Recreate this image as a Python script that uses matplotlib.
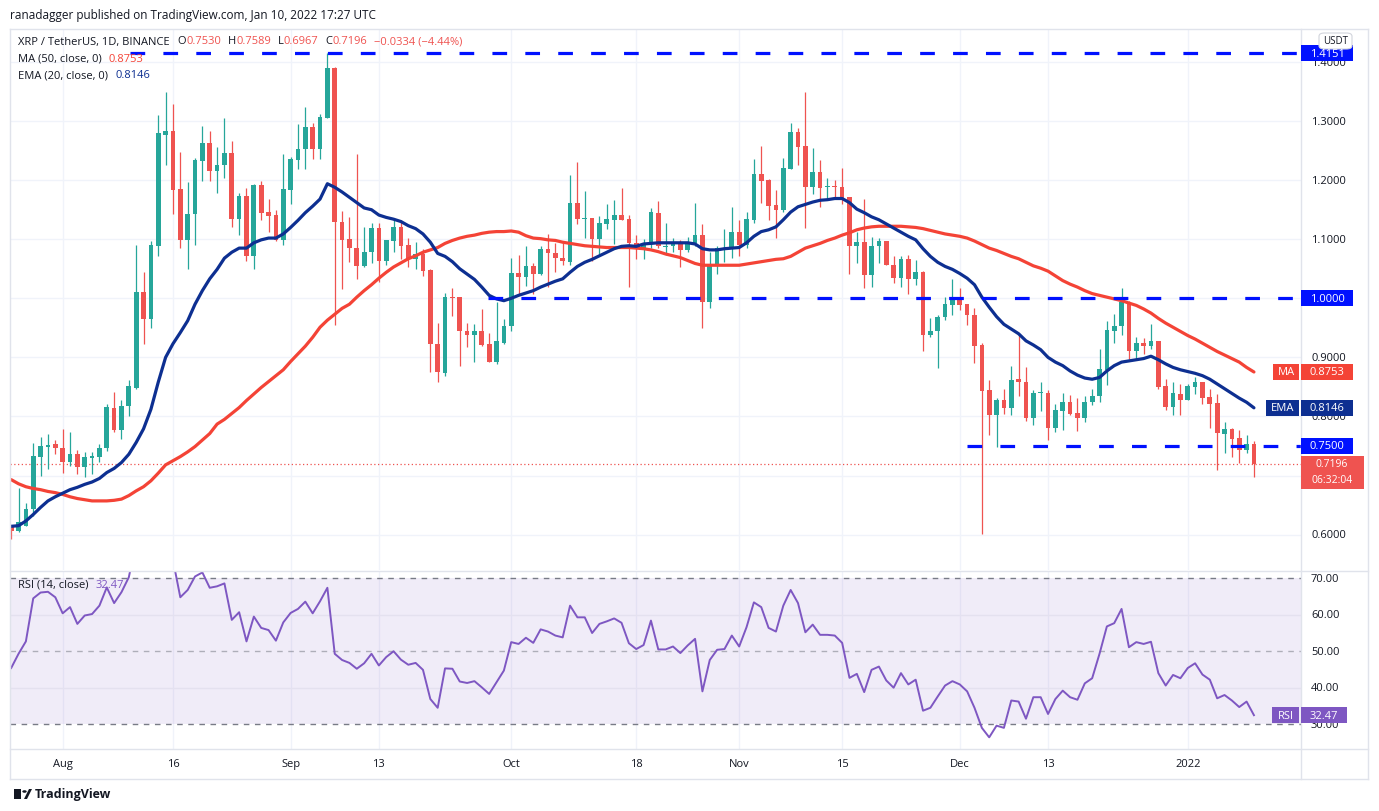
import matplotlib
matplotlib.use("Agg")
import matplotlib.pyplot as plt
import matplotlib.dates as mdates
from matplotlib.patches import Rectangle, FancyBboxPatch, Polygon, Circle
import pandas as pd

W, H = 1379, 812
FONT = ["Open Sans", "DejaVu Sans"]
DARK = "#131722"
UP = "#26a69a"
DOWN = "#ef5350"
MA_COLOR = "#f44336"
EMA_COLOR = "#0d2f91"
RSI_COLOR = "#7e57c2"
LEVEL_COLOR = "#0011ff"
GRID = "#f0f3fa"
BORDER = "#e0e3eb"

# daily candles, XRP / USDT
dates = pd.date_range("2021-07-25", "2022-01-10", freq="D")

opens = [
    0.612, 0.606, 0.615, 0.643, 0.732, 0.749, 0.753, 0.746, 0.723, 0.737,
    0.714, 0.730, 0.732, 0.747, 0.815, 0.777, 0.817, 0.849, 1.010, 0.965,
    1.089, 1.277, 1.284, 1.185, 1.098, 1.142, 1.233, 1.263, 1.215, 1.225,
    1.246, 1.134, 1.173, 1.071, 1.192, 1.146, 1.141, 1.099, 1.184, 1.235,
    1.252, 1.290, 1.253, 1.306, 1.390, 1.129, 1.101, 1.086, 1.054, 1.078,
    1.119, 1.064, 1.097, 1.120, 1.090, 1.066, 1.075, 1.048, 0.923, 0.873,
    1.003, 1.002, 0.944, 0.938, 0.944, 0.923, 0.893, 0.924, 0.953, 1.043,
    1.036, 1.054, 1.042, 1.084, 1.076, 1.068, 1.062, 1.162, 1.134, 1.136,
    1.101, 1.126, 1.133, 1.141, 1.134, 1.094, 1.084, 1.092, 1.145, 1.087,
    1.088, 1.094, 1.081, 1.094, 1.107, 0.994, 1.058, 1.083, 1.084, 1.113,
    1.091, 1.133, 1.211, 1.201, 1.158, 1.150, 1.219, 1.281, 1.258, 1.189,
    1.214, 1.188, 1.190, 1.189, 1.171, 1.088, 1.095, 1.040, 1.088, 1.097,
    1.057, 1.034, 1.067, 1.032, 1.044, 0.938, 0.944, 0.968, 0.989, 0.999,
    0.990, 0.972, 0.921, 0.845, 0.803, 0.827, 0.815, 0.863, 0.859, 0.797,
    0.839, 0.840, 0.781, 0.809, 0.825, 0.806, 0.797, 0.825, 0.834, 0.879,
    0.945, 0.953, 0.993, 0.911, 0.925, 0.920, 0.927, 0.851, 0.816, 0.838,
    0.828, 0.850, 0.859, 0.833, 0.823, 0.770, 0.779, 0.763, 0.744, 0.7530,
]
highs = [
    0.614, 0.678, 0.653, 0.755, 0.766, 0.770, 0.760, 0.779, 0.773, 0.744,
    0.740, 0.740, 0.753, 0.821, 0.841, 0.828, 0.862, 1.090, 1.045, 1.097,
    1.311, 1.350, 1.329, 1.247, 1.197, 1.237, 1.291, 1.283, 1.257, 1.306,
    1.267, 1.179, 1.187, 1.194, 1.199, 1.168, 1.150, 1.245, 1.239, 1.295,
    1.324, 1.297, 1.312, 1.4151, 1.392, 1.147, 1.137, 1.245, 1.120, 1.128,
    1.128, 1.099, 1.132, 1.132, 1.102, 1.096, 1.084, 1.050, 0.959, 1.009,
    1.017, 1.002, 0.958, 0.956, 0.982, 0.942, 0.993, 0.965, 1.069, 1.073,
    1.089, 1.060, 1.089, 1.109, 1.094, 1.094, 1.209, 1.231, 1.181, 1.136,
    1.140, 1.160, 1.167, 1.187, 1.141, 1.107, 1.100, 1.153, 1.164, 1.128,
    1.102, 1.098, 1.103, 1.162, 1.126, 1.078, 1.089, 1.118, 1.154, 1.133,
    1.146, 1.236, 1.258, 1.202, 1.184, 1.238, 1.297, 1.288, 1.349, 1.255,
    1.234, 1.203, 1.201, 1.221, 1.172, 1.113, 1.169, 1.103, 1.102, 1.097,
    1.071, 1.071, 1.073, 1.065, 1.047, 0.966, 0.971, 1.003, 1.032, 1.018,
    0.990, 0.983, 0.924, 0.862, 0.831, 0.846, 0.886, 0.938, 0.884, 0.845,
    0.859, 0.845, 0.821, 0.840, 0.836, 0.832, 0.834, 0.847, 0.915, 0.961,
    0.973, 1.017, 0.996, 0.935, 0.933, 0.956, 0.927, 0.864, 0.859, 0.855,
    0.855, 0.866, 0.859, 0.846, 0.838, 0.791, 0.780, 0.777, 0.768, 0.7589,
]
lows = [
    0.592, 0.604, 0.614, 0.632, 0.699, 0.711, 0.737, 0.705, 0.716, 0.702,
    0.697, 0.702, 0.723, 0.742, 0.773, 0.762, 0.801, 0.847, 0.923, 0.949,
    1.071, 1.226, 1.143, 1.085, 1.050, 1.091, 1.199, 1.199, 1.179, 1.203,
    1.121, 1.108, 1.064, 1.050, 1.132, 1.113, 1.097, 1.091, 1.159, 1.219,
    1.219, 1.236, 1.236, 1.306, 0.954, 1.015, 1.062, 1.032, 1.053, 1.059,
    1.027, 1.057, 1.078, 1.067, 1.053, 1.050, 1.038, 0.875, 0.859, 0.869,
    0.970, 0.886, 0.917, 0.893, 0.920, 0.892, 0.889, 0.923, 0.945, 1.005,
    1.021, 1.007, 1.040, 1.019, 1.044, 1.056, 1.057, 1.126, 1.102, 1.064,
    1.075, 1.118, 1.092, 1.132, 1.019, 1.066, 1.067, 1.086, 1.085, 1.074,
    1.078, 1.053, 1.078, 1.089, 0.949, 0.983, 1.041, 1.062, 1.068, 1.071,
    1.085, 1.128, 1.162, 1.132, 1.102, 1.146, 1.219, 1.225, 1.119, 1.177,
    1.155, 1.167, 1.168, 1.160, 1.041, 1.060, 1.017, 1.019, 1.060, 1.056,
    1.026, 1.019, 1.007, 1.023, 0.910, 0.935, 0.882, 0.963, 0.971, 0.981,
    0.955, 0.890, 0.601, 0.769, 0.749, 0.804, 0.803, 0.834, 0.793, 0.786,
    0.810, 0.760, 0.773, 0.777, 0.802, 0.776, 0.791, 0.819, 0.825, 0.854,
    0.924, 0.938, 0.897, 0.898, 0.906, 0.914, 0.846, 0.811, 0.803, 0.803,
    0.827, 0.838, 0.821, 0.780, 0.709, 0.738, 0.731, 0.722, 0.738, 0.6967,
]
closes = [
    0.606, 0.622, 0.644, 0.733, 0.750, 0.751, 0.746, 0.723, 0.737, 0.714,
    0.731, 0.733, 0.747, 0.816, 0.777, 0.817, 0.851, 1.010, 0.965, 1.090,
    1.280, 1.284, 1.184, 1.098, 1.143, 1.235, 1.263, 1.215, 1.226, 1.246,
    1.134, 1.173, 1.071, 1.192, 1.145, 1.140, 1.099, 1.185, 1.236, 1.253,
    1.290, 1.253, 1.307, 1.390, 1.129, 1.099, 1.085, 1.054, 1.078, 1.119,
    1.064, 1.098, 1.120, 1.089, 1.067, 1.075, 1.047, 0.923, 0.875, 1.003,
    1.001, 0.944, 0.938, 0.944, 0.921, 0.893, 0.927, 0.953, 1.043, 1.036,
    1.054, 1.042, 1.084, 1.076, 1.068, 1.063, 1.162, 1.134, 1.136, 1.101,
    1.128, 1.134, 1.141, 1.133, 1.094, 1.086, 1.092, 1.146, 1.088, 1.089,
    1.094, 1.081, 1.095, 1.107, 0.994, 1.058, 1.085, 1.085, 1.113, 1.091,
    1.134, 1.211, 1.199, 1.157, 1.150, 1.221, 1.281, 1.257, 1.189, 1.214,
    1.187, 1.190, 1.188, 1.169, 1.088, 1.095, 1.040, 1.088, 1.097, 1.056,
    1.034, 1.067, 1.032, 1.044, 0.938, 0.944, 0.969, 0.990, 0.999, 0.989,
    0.971, 0.920, 0.843, 0.803, 0.827, 0.815, 0.862, 0.858, 0.797, 0.840,
    0.840, 0.781, 0.811, 0.825, 0.804, 0.797, 0.825, 0.834, 0.880, 0.946,
    0.953, 0.993, 0.911, 0.925, 0.920, 0.927, 0.850, 0.816, 0.839, 0.828,
    0.851, 0.859, 0.831, 0.821, 0.772, 0.779, 0.762, 0.744, 0.753, 0.7196,
]

# indicator values as shown on the chart
ma50 = [
    0.693, 0.686, 0.681, 0.678, 0.676, 0.673, 0.671, 0.668, 0.664, 0.661,
    0.659, 0.657, 0.657, 0.657, 0.658, 0.660, 0.666, 0.674, 0.681, 0.691,
    0.704, 0.718, 0.725, 0.732, 0.740, 0.749, 0.760, 0.771, 0.787, 0.795,
    0.805, 0.815, 0.827, 0.838, 0.849, 0.859, 0.869, 0.879, 0.893, 0.906,
    0.919, 0.934, 0.951, 0.963, 0.973, 0.983, 0.990, 1.002, 1.013, 1.023,
    1.034, 1.044, 1.053, 1.060, 1.067, 1.072, 1.078, 1.082, 1.086, 1.093,
    1.098, 1.102, 1.105, 1.107, 1.110, 1.112, 1.113, 1.113, 1.114, 1.112,
    1.106, 1.102, 1.101, 1.099, 1.098, 1.095, 1.093, 1.091, 1.089, 1.088,
    1.087, 1.086, 1.086, 1.086, 1.086, 1.085, 1.084, 1.082, 1.079, 1.075,
    1.072, 1.069, 1.064, 1.059, 1.056, 1.056, 1.056, 1.056, 1.056, 1.056,
    1.058, 1.060, 1.062, 1.064, 1.066, 1.067, 1.071, 1.078, 1.085, 1.089,
    1.093, 1.098, 1.102, 1.107, 1.111, 1.116, 1.119, 1.121, 1.122, 1.122,
    1.122, 1.122, 1.121, 1.120, 1.118, 1.115, 1.112, 1.109, 1.107, 1.105,
    1.102, 1.097, 1.091, 1.085, 1.081, 1.076, 1.071, 1.067, 1.061, 1.055,
    1.051, 1.046, 1.038, 1.030, 1.024, 1.019, 1.013, 1.008, 1.005, 1.002,
    0.999, 0.996, 0.992, 0.988, 0.982, 0.975, 0.966, 0.958, 0.951, 0.944,
    0.937, 0.931, 0.924, 0.917, 0.910, 0.904, 0.898, 0.892, 0.883, 0.8753,
]
ema20 = [
    0.614, 0.615, 0.623, 0.634, 0.646, 0.657, 0.664, 0.670, 0.676, 0.680,
    0.685, 0.689, 0.695, 0.705, 0.712, 0.722, 0.736, 0.756, 0.779, 0.812,
    0.858, 0.900, 0.923, 0.942, 0.962, 0.990, 1.013, 1.033, 1.049, 1.068,
    1.078, 1.085, 1.085, 1.094, 1.099, 1.102, 1.102, 1.109, 1.120, 1.132,
    1.145, 1.156, 1.168, 1.194, 1.188, 1.180, 1.171, 1.162, 1.153, 1.150,
    1.141, 1.137, 1.134, 1.130, 1.123, 1.118, 1.109, 1.095, 1.076, 1.071,
    1.062, 1.050, 1.041, 1.032, 1.019, 1.005, 0.999, 0.996, 1.000, 1.005,
    1.009, 1.013, 1.019, 1.024, 1.029, 1.033, 1.044, 1.054, 1.061, 1.066,
    1.072, 1.078, 1.084, 1.088, 1.089, 1.088, 1.092, 1.093, 1.094, 1.094,
    1.094, 1.094, 1.094, 1.092, 1.084, 1.082, 1.082, 1.084, 1.085, 1.086,
    1.094, 1.105, 1.113, 1.116, 1.121, 1.133, 1.146, 1.155, 1.159, 1.163,
    1.166, 1.167, 1.169, 1.169, 1.162, 1.151, 1.145, 1.138, 1.133, 1.126,
    1.119, 1.112, 1.105, 1.099, 1.084, 1.071, 1.061, 1.054, 1.049, 1.042,
    1.034, 1.023, 1.002, 0.985, 0.969, 0.956, 0.948, 0.940, 0.928, 0.921,
    0.913, 0.900, 0.892, 0.886, 0.877, 0.870, 0.865, 0.863, 0.866, 0.877,
    0.886, 0.892, 0.894, 0.896, 0.898, 0.902, 0.896, 0.889, 0.883, 0.879,
    0.876, 0.873, 0.869, 0.863, 0.855, 0.847, 0.839, 0.831, 0.824, 0.8146,
]
rsi14 = [
    45.4, 49.3, 52.7, 64.5, 66.1, 66.3, 64.8, 60.4, 62.1, 57.5,
    59.8, 60.2, 62.5, 67.5, 63.2, 66.2, 70.3, 80.0, 72.5, 78.0,
    86.0, 86.0, 75.0, 64.8, 66.8, 70.5, 71.6, 67.4, 67.8, 68.6,
    58.6, 60.7, 52.7, 59.5, 56.4, 55.8, 52.9, 57.9, 60.5, 61.6,
    63.6, 60.4, 63.7, 67.4, 49.3, 47.6, 46.8, 45.2, 46.7, 49.3,
    46.1, 48.4, 50.0, 47.7, 46.3, 46.8, 44.9, 36.9, 34.5, 45.3,
    45.2, 41.7, 41.3, 41.8, 40.1, 38.3, 41.5, 44.7, 52.5, 52.0,
    53.7, 52.3, 56.0, 55.4, 54.3, 53.8, 62.5, 59.3, 59.3, 55.0,
    57.5, 58.2, 59.0, 57.8, 52.2, 50.6, 51.7, 58.4, 50.5, 50.5,
    51.3, 49.5, 51.6, 53.4, 39.0, 47.6, 50.4, 50.6, 54.3, 51.3,
    56.6, 63.4, 62.1, 56.4, 55.4, 62.5, 66.8, 63.2, 55.2, 57.3,
    54.5, 54.5, 54.3, 52.3, 42.7, 43.8, 38.8, 44.9, 45.8, 42.0,
    40.0, 44.0, 40.9, 42.2, 33.7, 34.5, 37.6, 40.6, 41.8, 40.9,
    39.0, 34.5, 29.0, 26.4, 29.6, 29.0, 36.5, 36.2, 31.5, 37.4,
    37.4, 32.8, 36.9, 39.2, 37.4, 36.7, 41.2, 42.6, 49.3, 56.8,
    57.7, 61.6, 51.1, 52.5, 52.0, 52.6, 44.0, 40.6, 43.5, 42.6,
    45.4, 46.7, 43.6, 42.2, 37.1, 38.0, 36.5, 34.7, 36.2, 32.47,
]

# horizontal drawings: level and where the line starts
level_prices = [1.4151, 1.0000, 0.7500]
level_starts = ["2021-08-10 05:00", "2021-09-27 19:00", "2021-12-01 22:00"]

tick_dates = ["2021-08-01", "2021-08-16", "2021-09-01", "2021-09-13", "2021-10-01",
              "2021-10-18", "2021-11-01", "2021-11-15", "2021-12-01", "2021-12-13",
              "2022-01-01"]
tick_labels = ["Aug", "16", "Sep", "13", "Oct", "18", "Nov", "15", "Dec", "13", "2022"]
price_ticks = [0.6, 0.7, 0.8, 0.9, 1.0, 1.1, 1.2, 1.3, 1.4]
rsi_ticks = [30, 40, 50, 60, 70]

# pane geometry in pixels
LEFT, RIGHT = 10, 1301
P_TOP, P_BOT = 30, 571
R_TOP, R_BOT = 572, 750
P_YMIN, P_YMAX = 0.540, 1.456
R_YMIN, R_YMAX = 23.2, 72.0

fig = plt.figure(figsize=(W / 100, H / 100), dpi=100)
fig.patch.set_facecolor("white")

ax = fig.add_axes([LEFT / W, 1 - P_BOT / H, (RIGHT - LEFT) / W, (P_BOT - P_TOP) / H])
ax2 = fig.add_axes([LEFT / W, 1 - R_BOT / H, (RIGHT - LEFT) / W, (R_BOT - R_TOP) / H], sharex=ax)

xs = mdates.date2num(dates)
x0 = xs[0]
for a in (ax, ax2):
    a.set_xlim(x0 - 0.16, x0 + 175.4)
    for s in a.spines.values():
        s.set_visible(False)
    a.tick_params(left=False, bottom=False, labelleft=False, labelbottom=False)
    for td in tick_dates:
        a.axvline(mdates.date2num(pd.Timestamp(td)), color=GRID, lw=1, zorder=0)
ax.set_ylim(P_YMIN, P_YMAX)
ax2.set_ylim(R_YMIN, R_YMAX)

for p in price_ticks:
    ax.axhline(p, color=GRID, lw=1, zorder=0)

# level lines
for lv, st in zip(level_prices, level_starts):
    ax.hlines(lv, mdates.date2num(pd.Timestamp(st)), x0 + 176, color=LEVEL_COLOR,
              lw=2.3, linestyles=(0, (4.6, 5.7)), zorder=6)

# current price dotted line
ax.axhline(closes[-1], color=DOWN, lw=0.9, ls=(0, (1, 2)), zorder=1)

# candles
for x, o, h, l, c in zip(xs, opens, highs, lows, closes):
    col = UP if c >= o else DOWN
    ax.vlines(x, l, h, color=col, lw=0.9, zorder=2)
    lo, hi = min(o, c), max(o, c)
    ax.bar(x, max(hi - lo, 0.0018), bottom=lo, width=0.64, color=col, lw=0, zorder=3)

ax.plot(xs, ma50, color=MA_COLOR, lw=2.3, zorder=4, solid_capstyle="round")
ax.plot(xs, ema20, color=EMA_COLOR, lw=2.3, zorder=5, solid_capstyle="round")

# RSI pane
ax2.axhspan(30, 70, color=RSI_COLOR, alpha=0.11, lw=0, zorder=0)
for g in (40, 60):
    ax2.axhline(g, color="#e4e1ef", lw=1, zorder=1)
ax2.axhline(70, color="#787b86", lw=1, ls=(0, (4, 4)), zorder=1)
ax2.axhline(30, color="#787b86", lw=1, ls=(0, (4, 4)), zorder=1)
ax2.axhline(50, color="#787b86", lw=1, ls=(0, (4, 4)), alpha=0.55, zorder=1)
ax2.plot(xs, rsi14, color=RSI_COLOR, lw=1.4, zorder=3)

# frame lines
def fline(xa, ya, xb, yb, color=BORDER, lw=1):
    fig.add_artist(plt.Line2D([xa / W, xb / W], [1 - ya / H, 1 - yb / H],
                              transform=fig.transFigure, color=color, lw=lw))

fline(LEFT, P_TOP, 1368, P_TOP)
fline(LEFT, 571.5, 1368, 571.5)
fline(LEFT, R_BOT, 1368, R_BOT)
fline(LEFT, 780, 1368, 780)
fline(LEFT, P_TOP, LEFT, 780)
fline(RIGHT, P_TOP, RIGHT, 780)
fline(1368, P_TOP, 1368, 780)

def py_price(v):
    return P_TOP + (P_YMAX - v) / (P_YMAX - P_YMIN) * (P_BOT - P_TOP)

def py_rsi(v):
    return R_TOP + (R_YMAX - v) / (R_YMAX - R_YMIN) * (R_BOT - R_TOP)

def ftext(x, y, s, **kw):
    kw.setdefault("family", FONT)
    kw.setdefault("fontsize", 8)
    kw.setdefault("color", DARK)
    kw.setdefault("va", "center")
    return fig.text(x / W, 1 - y / H, s, **kw)

ycur = py_price(closes[-1])

# axis labels (the one hidden under the last-price box is left out)
for p in price_ticks:
    yp = py_price(p)
    if ycur - 10 < yp < ycur + 28:
        continue
    ftext(1311, yp, f"{p:.4f}")
for r in rsi_ticks:
    ftext(1311, py_rsi(r), f"{r:.2f}")
for td, lab in zip(tick_dates, tick_labels):
    xpx = LEFT + (mdates.date2num(pd.Timestamp(td)) - (x0 - 0.16)) / 175.56 * (RIGHT - LEFT)
    ftext(xpx, 765, lab, ha="center")

def tag(xa, xb, yc, h, s, color, size=8, weight="normal"):
    fig.add_artist(Rectangle((xa / W, 1 - (yc + h / 2) / H), (xb - xa) / W, h / H,
                             transform=fig.transFigure, color=color, lw=0, zorder=10))
    t = ftext((xa + xb) / 2, yc, s, ha="center", color="white", fontsize=size,
              weight=weight)
    t.set_zorder(11)

for lv in level_prices:
    tag(1301, 1353, py_price(lv), 16, f"{lv:.4f}", LEVEL_COLOR)
tag(1273, 1299, py_price(ma50[-1]), 16, "MA", MA_COLOR)
tag(1301, 1353, py_price(ma50[-1]), 16, f"{ma50[-1]:.4f}", MA_COLOR)
tag(1266, 1299, py_price(ema20[-1]), 16, "EMA", EMA_COLOR)
tag(1301, 1353, py_price(ema20[-1]), 16, f"{ema20[-1]:.4f}", EMA_COLOR)
fig.add_artist(Rectangle((1301 / W, 1 - (ycur + 25) / H), 63 / W, 33 / H,
                         transform=fig.transFigure, color=DOWN, lw=0, zorder=10))
ftext(1332, ycur, f"{closes[-1]:.4f}", ha="center", color="white", fontsize=7.5,
      zorder=11)
ftext(1332, ycur + 16, "06:32:04", ha="center", color="white", fontsize=7.5, zorder=11)
tag(1272, 1299, py_rsi(rsi14[-1]), 16, "RSI", RSI_COLOR)
tag(1301, 1347, py_rsi(rsi14[-1]), 16, f"{rsi14[-1]:.2f}", RSI_COLOR)

# USDT box
fig.add_artist(FancyBboxPatch((1319 / W, 1 - 50 / H), 33 / W, 16 / H,
                              boxstyle="round,pad=0,rounding_size=0.004",
                              transform=fig.transFigure, fc="white", ec="#d1d4dc",
                              lw=0.8, zorder=10))
ftext(1335.5, 42, "USDT", ha="center", fontsize=7, zorder=11)

# header and legends
renderer = fig.canvas.get_renderer()

def row(x, y, parts, size=8):
    for s, c, gap in parts:
        t = ftext(x, y, s, color=c, fontsize=size, zorder=12)
        x += t.get_window_extent(renderer).width + gap

ftext(10, 15, "ranadagger published on TradingView.com, Jan 10, 2022 17:27 UTC", fontsize=8.5)
row(18, 42, [("XRP / TetherUS, 1D, BINANCE", DARK, 8),
             ("O", DARK, 0), ("0.7530", DOWN, 7),
             ("H", DARK, 0), ("0.7589", DOWN, 7),
             ("L", DARK, 0), ("0.6967", DOWN, 7),
             ("C", DARK, 0), ("0.7196", DOWN, 7),
             ("\u22120.0334 (\u22124.44%)", DOWN, 0)])
row(18, 59, [("MA (50, close, 0)", DARK, 7), ("0.8753", MA_COLOR, 0)])
row(18, 76, [("EMA (20, close, 0)", DARK, 7), ("0.8146", EMA_COLOR, 0)])
row(18, 585, [("RSI (14, close)", DARK, 7), ("32.47", RSI_COLOR, 0)])

# TradingView mark
fig.add_artist(Rectangle((14 / W, 1 - 800 / H), 7 / W, 10 / H, transform=fig.transFigure,
                         color=DARK, lw=0))
fig.add_artist(Circle((24.5 / W, 1 - 792.5 / H), 2.2 / W, transform=fig.transFigure,
                      color=DARK, lw=0))
fig.add_artist(Polygon([(24 / W, 1 - 800 / H), (29 / W, 1 - 790 / H), (32 / W, 1 - 790 / H),
                        (27 / W, 1 - 800 / H)], closed=True, transform=fig.transFigure,
                       color=DARK, lw=0))
ftext(35, 795, "TradingView", fontsize=9, weight="bold")

fig.savefig("out.png", dpi=100, facecolor="white")
